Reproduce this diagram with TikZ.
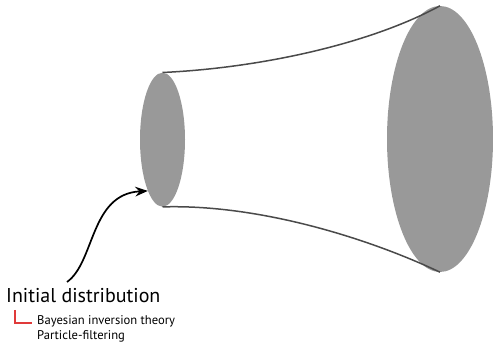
\documentclass[tikz,border=0pt]{standalone}
\usepackage{fontspec}
\setmainfont{PT Sans}
\usetikzlibrary{arrows.meta,shapes.geometric}
\definecolor{diskgray}{HTML}{999999}
\definecolor{rimgray}{HTML}{4A4A4A}
\definecolor{treered}{HTML}{E03A3A}

\begin{document}
\begin{tikzpicture}[
    x=1pt, y=1pt,
    >={Stealth[length=4.4mm, width=3.4mm]},
    disk/.style={ellipse, fill=diskgray, draw=none, inner sep=0pt},
    rim/.style={rimgray, line width=1.5pt},
    pointer/.style={->, line width=1.7pt, black},
    title/.style={font=\fontsize{20}{24}\selectfont, anchor=base west, inner sep=0pt},
    subitem/.style={font=\fontsize{12.6}{15}\selectfont, anchor=base west,
                    align=left, inner sep=0pt},
    treeline/.style={treered, line width=1.1pt},
]
    \useasboundingbox (0,0) rectangle (493,344);

    % ============================================================
    %  DISKS (the two ends of the horn)
    % ============================================================
    \node[disk, minimum width=45, minimum height=134] (init) at (162.5,204.3) {};
    \node[disk, minimum width=106, minimum height=266] (final) at (440,205) {};

    % ============================================================
    %  HORN OUTLINE
    % ============================================================
    \draw[rim] (init.north) .. controls (260,276) and (370,300) .. (final.north);
    \draw[rim] (init.south) .. controls (260,140) and (370,105) .. (final.south);

    % ============================================================
    %  LABELS
    % ============================================================
    \node[title] (lbl) at (6,41) {Initial distribution};
    % base of a two-line node is the last line
    \node[subitem] (methods) at (37,4) {Bayesian inversion theory\\Particle-filtering};

    \coordinate (brk) at (15,34);
    \draw[treeline] (brk) |- ([shift={(-5pt,17pt)}]methods.base west);

    % pointer from the label up into the initial disk
    \coordinate (tail) at (67,62);
    \draw[pointer] (tail) .. controls (95,82) and (90,150) .. (init.254);

\end{tikzpicture}
\end{document}
